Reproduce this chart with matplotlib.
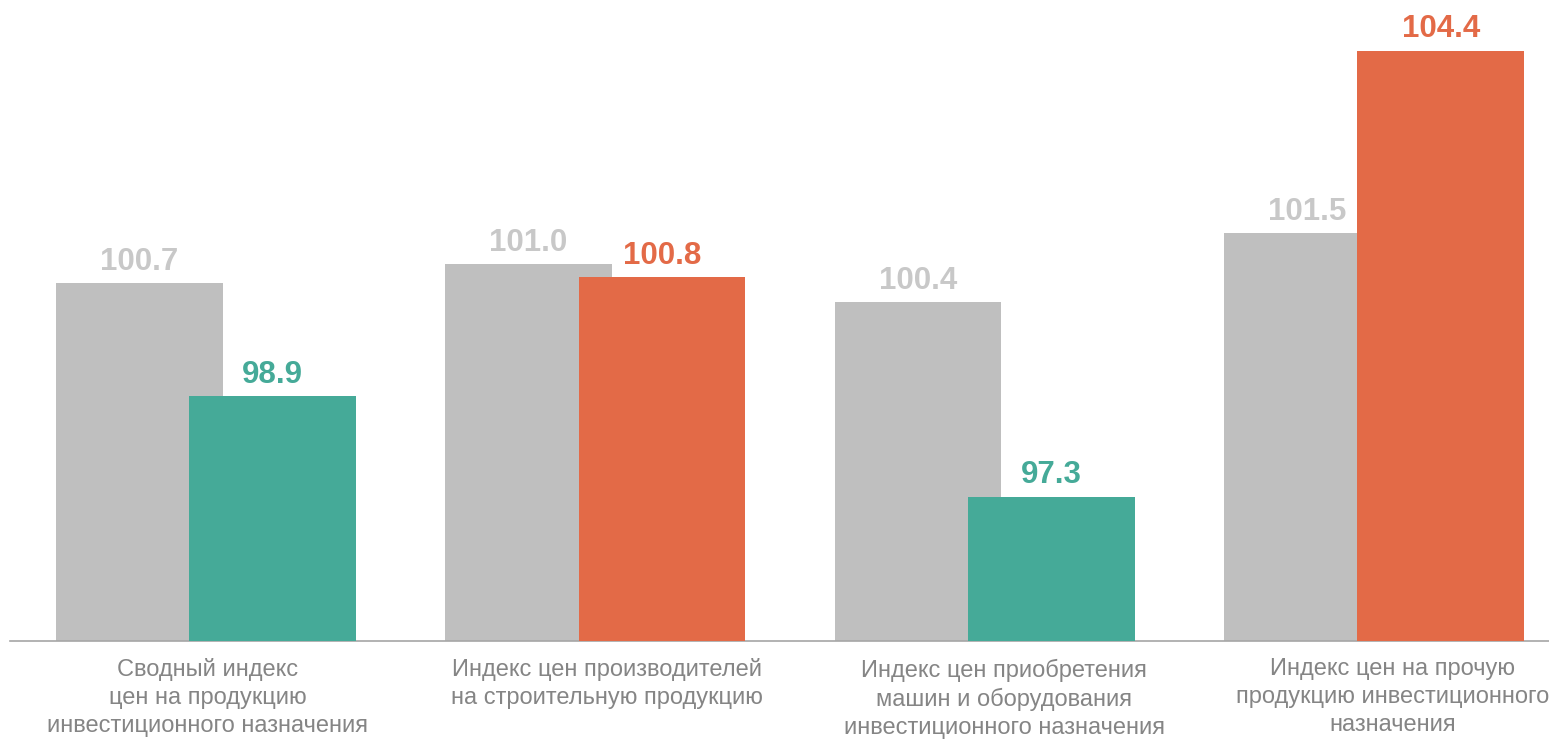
import numpy as np
import matplotlib.pyplot as plt

plt.rcParams['font.family'] = ['Liberation Sans', 'DejaVu Sans']

categories = [
    "Сводный индекс\nцен на продукцию\nинвестиционного назначения",
    "Индекс цен производителей\nна строительную продукцию",
    "Индекс цен приобретения\nмашин и оборудования\nинвестиционного назначения",
    "Индекс цен на прочую\nпродукцию инвестиционного\nназначения",
]
prev_values = [100.7, 101.0, 100.4, 101.5]
curr_values = [98.9, 100.8, 97.3, 104.4]
curr_colors = ["#45AA98", "#E36A47", "#45AA98", "#E36A47"]

GREY = "#BFBFBF"
GREY_TXT = "#C8C8C8"
BASE = 95.0

fig = plt.figure(figsize=(15.49, 7.40), dpi=100)
ax = fig.add_axes([10 / 1549, 99 / 740, 1539 / 1549, 641 / 740])

x = np.arange(len(categories))
w = 0.428
off = 0.1715
# the category labels sit a little to the right of the bar groups
label_shift = np.array([0.005, 0.03, 0.05, 0.047])

ax.bar(x - off, np.array(prev_values) - BASE, w, bottom=BASE, color=GREY, zorder=2)
ax.bar(x + off, np.array(curr_values) - BASE, w, bottom=BASE, color=curr_colors, zorder=3)

for xi, v in zip(x, prev_values):
    ax.annotate(f"{v:.1f}", (xi - off, v), xytext=(0, 4.5), textcoords="offset points",
                ha="center", va="bottom", fontsize=22.5, fontweight="bold", color=GREY_TXT)
for xi, v, c in zip(x, curr_values, curr_colors):
    ax.annotate(f"{v:.1f}", (xi + off, v), xytext=(0, 4.5), textcoords="offset points",
                ha="center", va="bottom", fontsize=22.5, fontweight="bold", color=c)

ax.set_xlim(-0.5035, 3.4495)
ax.set_ylim(BASE, BASE + 641 / 62.8)
ax.set_xticks(x + label_shift)
ax.set_xticklabels(categories, fontsize=17, color="#858585", linespacing=1.35)
ax.tick_params(axis="x", length=0, pad=12.5)
ax.set_yticks([])
for s in ["top", "right", "left"]:
    ax.spines[s].set_visible(False)
ax.spines["bottom"].set_color("#A6A6A6")
ax.spines["bottom"].set_linewidth(1.2)

fig.savefig("out.png", dpi=100)
